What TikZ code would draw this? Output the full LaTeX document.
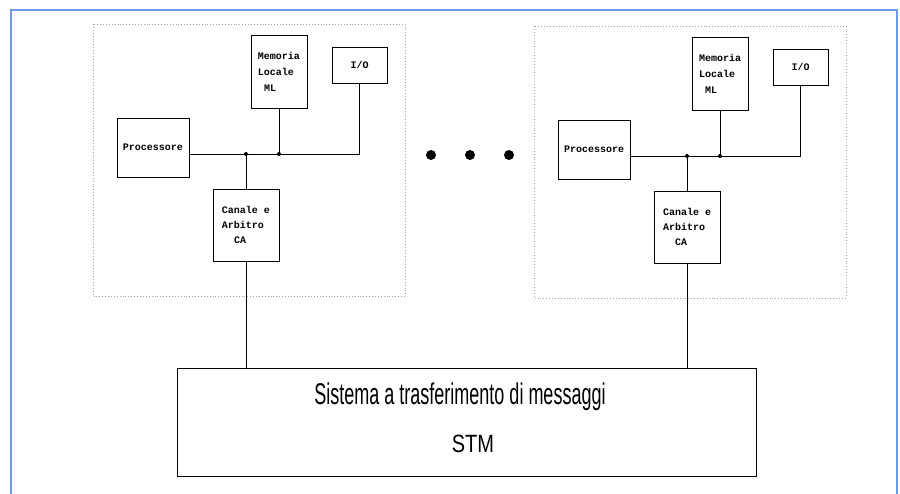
\documentclass[tikz,border=0pt]{standalone}
\usepackage{fontspec}
\setmonofont{Liberation Mono}
\newfontfamily\stmfont[FakeStretch=0.6]{Liberation Sans}
\newfontfamily\stmwide[FakeStretch=0.8]{Liberation Sans}
\usetikzlibrary{positioning, calc}

\definecolor{frameblue}{RGB}{110,155,225}

\tikzset{
    unit/.style={draw, line width=0.9pt, inner sep=0pt, align=left,
        font=\ttfamily\bfseries\fontsize{10}{15}\selectfont},
    cluster/.style={draw=gray!70, dotted, line width=0.9pt},
    wire/.style={line width=0.7pt},
    junct/.style={circle, fill, inner sep=0pt, minimum size=4pt},
    bigdot/.style={circle, fill, inner sep=0pt, minimum size=10pt},
    stmtext/.style={anchor=base, inner sep=0pt}
}

\begin{document}
\begin{tikzpicture}[x=1pt, y=-1pt]

    \useasboundingbox (0,0) rectangle (900,493);
    \draw[frameblue, line width=1.5pt] (11,500) |- (897,10) -- (897,500);

    % message transfer system
    \node[draw, line width=0.9pt, minimum width=579pt, minimum height=108pt] (stm) at (466.5,422) {};
    \node[stmtext, font=\stmfont\fontsize{30}{30}\selectfont] (stmname) at (460,404) {Sistema a trasferimento di messaggi};
    \node[stmtext, font=\stmwide\fontsize{25}{25}\selectfont] (stmlabel) at (473,452) {STM};

    \foreach \dx/\dy/\g in {0/0/a, 441/2/b}{
        \begin{scope}[shift={(\dx,\dy)}]
            \draw[cluster] (93,24) rectangle (405,296);

            \node[unit, minimum width=72pt, minimum height=59pt] (proc\g) at (153,147.5) {Processore};
            \node[unit, minimum width=56pt, minimum height=73pt, font=\ttfamily\bfseries\fontsize{10}{16}\selectfont] (mem\g) at (279,71.5) {Memoria\\Locale\\\ ML};
            \node[unit, minimum width=55pt, minimum height=36pt] (io\g) at (359.5,65) {I/O};
            \node[unit, minimum width=66pt, minimum height=72pt] (ca\g) at (246,225) {Canale e\\Arbitro\\\ \ CA};

            \path (proc\g.east) ++(0,6.5) coordinate (bl\g);
        \end{scope}

        \coordinate (jm\g) at (mem\g.south |- bl\g);
        \coordinate (jc\g) at (ca\g.north |- bl\g);

        \draw[wire] (bl\g) -| (io\g.south);
        \draw[wire] (mem\g.south) -- (jm\g);
        \draw[wire] (ca\g.north) -- (jc\g);
        \draw[wire] (ca\g.south) -- (ca\g.south |- stm.north);
        \node[junct] at (jm\g) {};
        \node[junct] at (jc\g) {};
    }

    \foreach \x [count=\i] in {431,470,509}
        \node[bigdot] (dot\i) at (\x,155) {};

\end{tikzpicture}
\end{document}
